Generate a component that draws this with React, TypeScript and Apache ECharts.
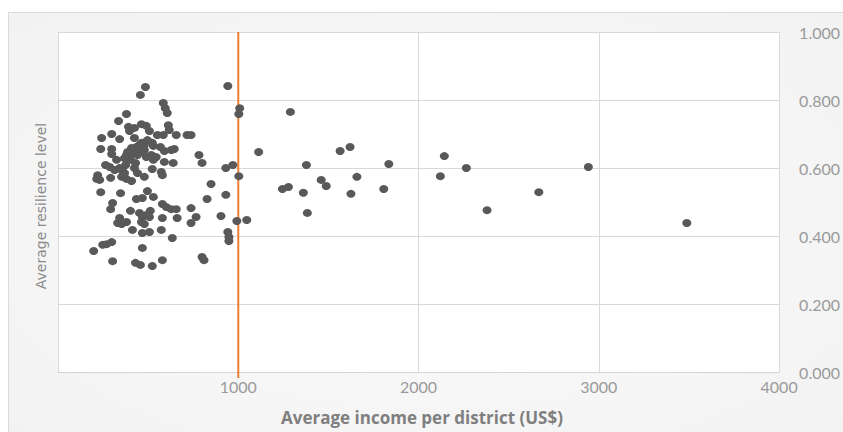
import React, { useEffect, useRef } from "react";
import * as echarts from "echarts";

// Average income per district (US$)
const income: number[] = [
  485, 457, 942, 584, 595, 606, 1008, 1003, 1289, 380, 336, 391, 397, 424, 463, 490, 507, 612, 617,
  298, 242, 342, 424, 551, 584, 656, 716, 738, 523, 463, 479, 435, 408, 529, 237, 298, 298, 380, 397,
  413, 441, 468, 490, 518, 529, 545, 590, 628, 590, 639, 782, 799, 1113, 264, 287, 314, 342, 358, 369,
  441, 479, 523, 573, 579, 931, 970, 1003, 220, 215, 231, 292, 353, 380, 408, 849, 931, 827, 237, 347,
  496, 468, 435, 529, 303, 292, 402, 452, 468, 490, 512, 579, 601, 628, 656, 738, 766, 738, 342, 331,
  353, 380, 463, 479, 507, 579, 661, 904, 992, 1047, 413, 468, 507, 573, 634, 942, 948, 948, 298, 270,
  248, 198, 468, 799, 810, 303, 430, 457, 523, 579,
  1378, 1565, 1620, 1835, 1460, 1488, 1658, 1245, 1278, 1361, 1625, 1807, 1383, 2143, 2265, 2121, 2667,
  2380, 2942, 3488,
  424, 452, 386, 402, 369, 479, 496, 430, 325, 375, 424, 568, 645,
];

// Average resilience level
const resilience: number[] = [
  0.838, 0.815, 0.841, 0.791, 0.776, 0.762, 0.776, 0.759, 0.765, 0.759, 0.738, 0.721, 0.709, 0.718,
  0.729, 0.724, 0.709, 0.726, 0.712, 0.7, 0.688, 0.685, 0.688, 0.697, 0.697, 0.697, 0.697, 0.697, 0.674,
  0.674, 0.668, 0.662, 0.659, 0.665, 0.656, 0.656, 0.641, 0.638, 0.629, 0.644, 0.638, 0.647, 0.632,
  0.638, 0.624, 0.632, 0.65, 0.653, 0.618, 0.615, 0.638, 0.615, 0.647, 0.609, 0.603, 0.594, 0.6, 0.591,
  0.585, 0.585, 0.574, 0.597, 0.588, 0.579, 0.6, 0.609, 0.576, 0.579, 0.568, 0.565, 0.571, 0.574, 0.568,
  0.562, 0.553, 0.521, 0.509, 0.529, 0.526, 0.532, 0.512, 0.509, 0.515, 0.497, 0.479, 0.474, 0.468,
  0.456, 0.462, 0.474, 0.494, 0.485, 0.479, 0.479, 0.482, 0.456, 0.438, 0.453, 0.438, 0.435, 0.441,
  0.441, 0.435, 0.456, 0.453, 0.453, 0.459, 0.444, 0.447, 0.418, 0.409, 0.412, 0.418, 0.394, 0.412,
  0.397, 0.385, 0.382, 0.376, 0.374, 0.356, 0.365, 0.338, 0.329, 0.326, 0.321, 0.315, 0.312, 0.329,
  0.609, 0.65, 0.662, 0.612, 0.565, 0.547, 0.574, 0.538, 0.544, 0.527, 0.524, 0.538, 0.468, 0.635, 0.6,
  0.576, 0.529, 0.476, 0.603, 0.438,
  0.653, 0.668, 0.647, 0.624, 0.629, 0.653, 0.682, 0.615, 0.624, 0.609, 0.6, 0.662, 0.656,
];

const xTicks = [0, 1000, 2000, 3000, 4000];
const yTicks = [0, 0.2, 0.4, 0.6, 0.8, 1.0];
const thresholdIncome = 1000;
const xTitle = "Average income per district (US$)";
const yTitle = "Average resilience level";

export default function App() {
  const ref = useRef<HTMLDivElement>(null);

  useEffect(() => {
    if (!ref.current) return;
    const chart = echarts.init(ref.current, undefined, { renderer: "svg" });
    const points = income.map((x, i) => [x, resilience[i]]);
    const tickFont = { color: "#9a9a9a", fontSize: 16, fontFamily: "Lato" };

    chart.setOption({
      animation: false,
      grid: {
        left: 58,
        right: 61,
        top: 32,
        bottom: 60,
        show: true,
        backgroundColor: "#ffffff",
        borderWidth: 0,
      },
      xAxis: {
        type: "value",
        min: xTicks[0],
        max: xTicks[xTicks.length - 1],
        interval: 1000,
        axisLine: { show: true, lineStyle: { color: "#d4d4d4", width: 1 } },
        axisTick: { show: false },
        splitLine: { show: true, lineStyle: { color: "#d9d9d9", width: 1 } },
        axisLabel: {
          ...tickFont,
          margin: 6,
          formatter: (v: number) => (v === 0 ? "" : String(v)),
        },
      },
      yAxis: {
        type: "value",
        position: "right",
        min: yTicks[0],
        max: yTicks[yTicks.length - 1],
        interval: 0.2,
        axisLine: { show: true, lineStyle: { color: "#d9d9d9", width: 1 } },
        axisTick: { show: false },
        splitLine: { show: true, lineStyle: { color: "#d9d9d9", width: 1 } },
        axisLabel: {
          ...tickFont,
          margin: 20,
          formatter: (v: number) => v.toFixed(3),
        },
      },
      graphic: [
        {
          type: "text",
          x: 41,
          y: 206,
          rotation: Math.PI / 2,
          style: {
            text: yTitle,
            font: '14px "DejaVu Sans"',
            fill: "#8a8a8a",
            textAlign: "center",
            textVerticalAlign: "middle",
          },
        },
        {
          type: "text",
          x: 422,
          y: 417,
          style: {
            text: xTitle,
            font: 'bold 17px "Open Sans"',
            fill: "#7f7f7f",
            textAlign: "center",
            textVerticalAlign: "middle",
          },
        },
      ],
      series: [
        {
          type: "line",
          data: [
            [thresholdIncome, -0.018],
            [thresholdIncome, 1.0],
          ],
          clip: false,
          showSymbol: false,
          symbol: "none",
          lineStyle: { color: "#ED7D31", width: 2 },
          z: 1,
          silent: true,
        },
        {
          type: "scatter",
          data: points,
          symbol: "circle",
          symbolSize: [9, 8],
          itemStyle: { color: "#595959", opacity: 1 },
          z: 3,
        },
      ],
    });
    return () => chart.dispose();
  }, []);

  return (
    <div style={{ position: "absolute", left: 0, top: 0, width: 843, height: 432, background: "#ffffff" }}>
      <div
        style={{
          position: "absolute",
          left: 8,
          top: 12,
          width: 850,
          height: 440,
          background: "radial-gradient(ellipse at center, #fbfbfb 0%, #f2f2f2 100%)",
          border: "1px solid #d9d9d9",
          boxSizing: "border-box",
        }}
      />
      <div ref={ref} style={{ position: "absolute", left: 0, top: 0, width: 843, height: 432 }} />
    </div>
  );
}
